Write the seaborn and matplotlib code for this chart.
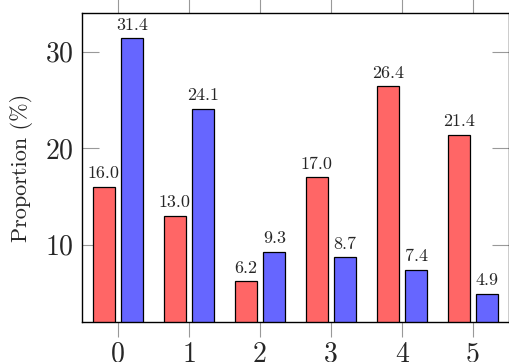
import numpy as np
import pandas as pd
import matplotlib
matplotlib.use('Agg')
import matplotlib.pyplot as plt
import seaborn as sns

categories = ['0', '1', '2', '3', '4', '5']
series_names = ['A', 'B']
values_a = [16.0, 13.0, 6.2, 17.0, 26.4, 21.4]
values_b = [31.4, 24.1, 9.3, 8.7, 7.4, 4.9]
yticks = [10, 20, 30]

sns.set_style('ticks')
plt.rcParams['font.family'] = ['cmr10', 'DejaVu Serif']
plt.rcParams['axes.formatter.use_mathtext'] = True
plt.rcParams['mathtext.fontset'] = 'cm'

df = pd.DataFrame({
    'cat': categories * 2,
    'series': [series_names[0]] * len(categories) + [series_names[1]] * len(categories),
    'value': values_a + values_b,
})

fig = plt.figure(figsize=(5.10, 3.62), dpi=100)
ax = fig.add_axes([0.161, 0.1105, 0.837, 0.8535])

sns.barplot(data=df, x='cat', y='value', hue='series', order=categories,
            hue_order=series_names, palette=['#FF6666', '#6666FF'],
            width=0.8, gap=0.225, edgecolor='black', linewidth=0.9,
            saturation=1, errorbar=None, legend=False, ax=ax)

# value labels above each bar
for cont in ax.containers:
    ax.bar_label(cont, fmt='%.1f', padding=4, fontsize=13)

ax.set_xlim(-0.507, 5.507)
ax.set_ylim(2.0, 34.0)
ax.set_yticks(yticks)
ax.set_xlabel('')
ax.set_ylabel('Proportion (%)', fontsize=16, labelpad=9)

for s in ax.spines.values():
    s.set_visible(True)
    s.set_color('black')
    s.set_linewidth(1.0)

ax.tick_params(axis='x', direction='out', top=True, bottom=True, length=11,
               color='#999999', width=0.8, labelsize=20, pad=3)
ax.tick_params(axis='y', direction='in', left=True, right=True, length=12,
               color='#999999', width=0.8, labelsize=20, pad=6)

fig.savefig('out.png', dpi=100)
